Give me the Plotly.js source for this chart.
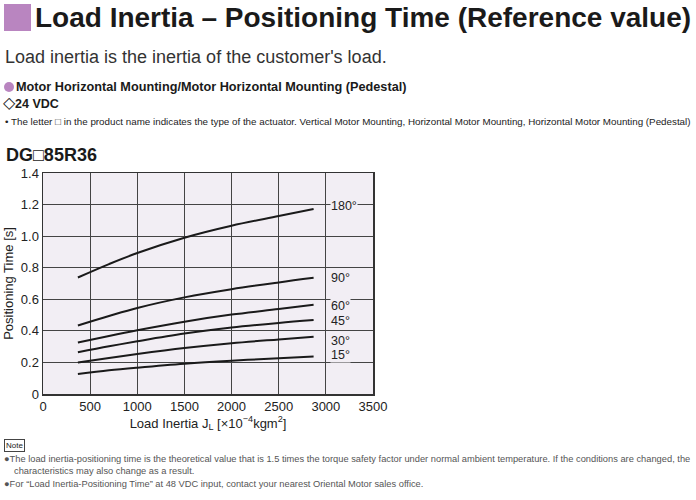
<!DOCTYPE html>
<html><head><meta charset="utf-8">
<script src="https://cdn.plot.ly/plotly-3.0.1.min.js"></script>
<style>html,body{margin:0;padding:0;background:#fff;}#chart{width:696px;height:500px;}</style>
</head><body><div id="chart"></div>
<script>
const loadInertia = [370, 700, 1000, 1500, 2000, 2500, 2870];
const seriesNames = ["180°", "90°", "60°", "45°", "30°", "15°"];
const t180 = [0.738, 0.823, 0.893, 0.990, 1.066, 1.127, 1.172];
const t90  = [0.434, 0.494, 0.545, 0.612, 0.664, 0.707, 0.736];
const t60  = [0.326, 0.368, 0.404, 0.458, 0.503, 0.538, 0.565];
const t45  = [0.264, 0.302, 0.334, 0.383, 0.421, 0.450, 0.468];
const t30  = [0.199, 0.228, 0.253, 0.291, 0.322, 0.346, 0.363];
const t15  = [0.127, 0.150, 0.167, 0.192, 0.211, 0.226, 0.237];
const labelY = [1.19, 0.734, 0.556, 0.462, 0.338, 0.250];
const xTicks = [0, 500, 1000, 1500, 2000, 2500, 3000, 3500];
const yTicks = [0, 0.2, 0.4, 0.6, 0.8, 1.0, 1.2, 1.4];
const yTickText = ["0", "0.2", "0.4", "0.6", "0.8", "1.0", "1.2", "1.4"];

const allSeries = [t180, t90, t60, t45, t30, t15];
const W = 696, H = 500;
const mL = 43, mR = 323, mT = 173, mB = 106;
const pw = W - mL - mR, ph = H - mT - mB;
const px = x => (x - mL) / pw;
const py = y => (H - mB - y) / ph;

const traces = allSeries.map((s, i) => ({
  x: loadInertia, y: s, type: 'scatter', mode: 'lines', name: seriesNames[i],
  line: {color: '#1a1a1a', width: 2, shape: 'spline', smoothing: 1},
  hoverinfo: 'skip'
}));

const F = '"Liberation Sans", Arial, sans-serif';
const ann = [];
seriesNames.forEach((n, i) => ann.push({
  x: 3040, y: labelY[i], xref: 'x', yref: 'y', text: n, showarrow: false,
  xanchor: 'left', yanchor: 'middle', font: {family: F, size: 12.5, color: '#222'},
  bgcolor: '#f2eef4', borderpad: 0
}));
function t(xp, yp, text, size, color) {
  ann.push({x: px(xp), y: py(yp), xref: 'paper', yref: 'paper', text: text,
    showarrow: false, xanchor: 'left', yanchor: 'middle',
    font: {family: F, size: size, color: color || '#222'}});
}
t(33, 17, '<b>Load Inertia – Positioning Time (Reference value)</b>', 28, '#1a1a1a');
t(3, 57, "Load inertia is the inertia of the customer's load.", 18, '#333');
t(14, 87, '<b>Motor Horizontal Mounting/Motor Horizontal Mounting (Pedestal)</b>', 12.7, '#1a1a1a');
t(1, 102, '<span style="font-size:16px">◇</span><b>24 VDC</b>', 12.5, '#1a1a1a');
t(3, 122, '• The letter □ in the product name indicates the type of the actuator. Vertical Motor Mounting, Horizontal Motor Mounting, Horizontal Motor Mounting (Pedestal)', 9.8);
t(4, 155, '<b>DG□85R36</b>', 18, '#1a1a1a');
ann.push({x: px(4), y: py(445), xref: 'paper', yref: 'paper', text: 'Note', showarrow: false,
  xanchor: 'left', yanchor: 'middle', font: {family: F, size: 8, color: '#222'},
  bordercolor: '#444', borderwidth: 1, borderpad: 1});
t(2, 459, '●The load inertia-positioning time is the theoretical value that is 1.5 times the torque safety factor under normal ambient temperature. If the conditions are changed, the', 9.3, '#555');
t(12, 471, 'characteristics may also change as a result.', 9.3, '#555');
t(2, 484, '●For “Load Inertia-Positioning Time” at 48 VDC input, contact your nearest Oriental Motor sales office.', 9.3, '#555');

const shapes = [
  {type: 'rect', xref: 'paper', yref: 'paper', x0: px(4), x1: px(31), y0: py(4), y1: py(31),
   fillcolor: '#b985c0', line: {width: 0}},
  {type: 'circle', xref: 'paper', yref: 'paper', x0: px(4), x1: px(14), y0: py(82), y1: py(92),
   fillcolor: '#b985c0', line: {width: 0}},
];

const layout = {
  width: W, height: H, margin: {l: mL, r: mR, t: mT, b: mB, pad: 0},
  paper_bgcolor: '#ffffff', plot_bgcolor: '#f2eef4', showlegend: false,
  font: {family: F, color: '#222'},
  xaxis: {range: [0, 3500], tickvals: xTicks, ticks: '', showgrid: true, gridcolor: '#444', gridwidth: 1,
    zeroline: false, showline: true, linecolor: '#333', linewidth: 1.5, mirror: true,
    tickfont: {family: F, size: 13, color: '#222'},
    title: {text: 'Load Inertia J<sub>L</sub> [×10<sup>−4</sup>kgm<sup>2</sup>]', font: {family: F, size: 13, color: '#222'}, standoff: 4}},
  yaxis: {range: [0, 1.4], tickvals: yTicks, ticktext: yTickText, ticks: '', showgrid: true, gridcolor: '#444', gridwidth: 1,
    zeroline: false, showline: true, linecolor: '#333', linewidth: 1.5, mirror: true,
    tickfont: {family: F, size: 13, color: '#222'},
    title: {text: 'Positioning Time [s]', font: {family: F, size: 13, color: '#222'}, standoff: 4}},
  annotations: ann, shapes: shapes
};
Plotly.newPlot('chart', traces, layout, {displayModeBar: false, staticPlot: true});
</script></body></html>
